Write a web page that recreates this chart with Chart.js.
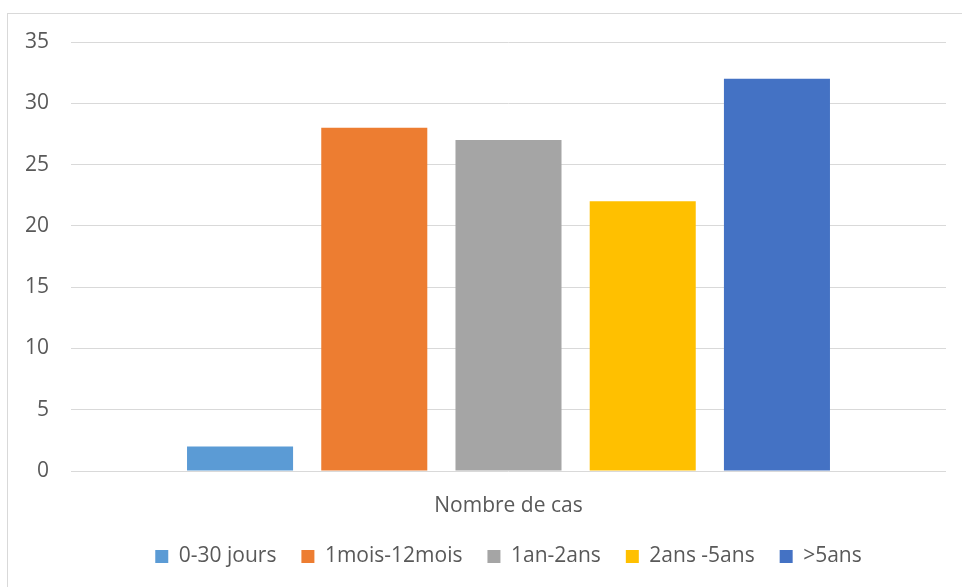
<!DOCTYPE html>
<html>
<head>
<meta charset="utf-8">
<script src="https://cdn.jsdelivr.net/npm/chart.js@4"></script>
<style>
  html, body { margin: 0; padding: 0; background: #ffffff; overflow: hidden; }
  #frame { position: absolute; left: 7px; top: 13px; width: 980px; height: 620px; border: 1px solid #d9d9d9; box-sizing: border-box; }
  #wrap { position: absolute; left: 0; top: 0; width: 962px; height: 587px; }
</style>
</head>
<body>
<div id="frame"></div>
<div id="wrap"><canvas id="c" width="962" height="587"></canvas></div>
<script>
const categories = ["Nombre de cas"];
const seriesNames = ["0-30 jours", "1mois-12mois", "1an-2ans", "2ans -5ans", ">5ans"];
const seriesValues = [2, 28, 27, 22, 32];
const seriesColors = ["#5B9BD5", "#ED7D31", "#A5A5A5", "#FFC000", "#4472C4"];
const yTicks = [0, 5, 10, 15, 20, 25, 30, 35];

const FONT = "'Open Sans', sans-serif";
const TEXT = "#595959";

const datasets = seriesNames.map((name, i) => ({
  label: name,
  data: [seriesValues[i]],
  backgroundColor: seriesColors[i],
  borderWidth: 0,
  barPercentage: 0.79,
  categoryPercentage: 0.767
}));

// Center the legend under the plot area (as in the original), not under the whole canvas.
const legendUnderPlot = {
  id: 'legendUnderPlot',
  afterLayout(chart) {
    if (chart.legend) {
      chart.legend.left = chart.chartArea.left;
      chart.legend.right = chart.chartArea.right;
    }
  }
};

new Chart(document.getElementById('c'), {
  type: 'bar',
  data: { labels: categories, datasets },
  plugins: [legendUnderPlot],
  options: {
    responsive: false,
    animation: false,
    devicePixelRatio: 1,
    layout: { padding: { left: 0, right: 16, top: 42, bottom: 10 } },
    plugins: {
      tooltip: { enabled: false },
      legend: {
        position: 'bottom',
        labels: {
          boxWidth: 13,
          boxHeight: 13,
          padding: 25,
          color: TEXT,
          font: { family: FONT, size: 21 }
        }
      }
    },
    scales: {
      x: {
        afterFit: (s) => { s.height = 50; },
        grid: { display: false, drawTicks: false },
        border: { display: false },
        ticks: { color: TEXT, font: { family: FONT, size: 21 }, padding: 22 }
      },
      y: {
        min: 0,
        max: 35,
        afterBuildTicks: (s) => { s.ticks = yTicks.map(v => ({ value: v })); },
        afterFit: (s) => { s.width = 71; },
        grid: { color: '#d9d9d9', lineWidth: 1, drawTicks: false },
        border: { display: false },
        ticks: { color: TEXT, font: { family: FONT, size: 21 }, padding: 22 }
      }
    }
  }
});
</script>
</body>
</html>
